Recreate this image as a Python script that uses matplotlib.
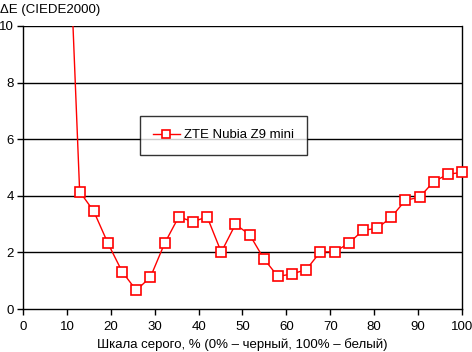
import numpy as np
import matplotlib.pyplot as plt

plt.rcParams['font.family'] = ['Liberation Sans', 'DejaVu Sans']

# Данные: шкала серого (%) и ΔE
gray = [100 * i / 31 for i in range(3, 32)]
delta_e = [16.6, 4.15, 3.45, 2.32, 1.32, 0.66, 1.13, 2.32, 3.26, 3.08, 3.26,
           2.01, 2.99, 2.63, 1.78, 1.15, 1.24, 1.39, 2.02, 2.02, 2.32, 2.78,
           2.85, 3.24, 3.84, 3.95, 4.50, 4.76, 4.83]
series_name = 'ZTE Nubia Z9 mini'

fig = plt.figure(figsize=(4.72, 3.52), dpi=100)
ax = fig.add_axes([23 / 472, 1 - 309 / 352, 439 / 472, 283 / 352])

for y in [2, 4, 6, 8, 10]:
    ax.axhline(y, color='black', linewidth=1, zorder=1)

# линия обрезается по осям, маркеры - нет
ax.plot(gray, delta_e, color='red', linewidth=1, zorder=3, label='_line')
vis = [(g, d) for g, d in zip(gray, delta_e) if d <= 10]
ax.plot([v[0] for v in vis], [v[1] for v in vis], linestyle='none', marker='s',
        markersize=7, markerfacecolor='white', markeredgecolor='red',
        markeredgewidth=1.2, zorder=4, clip_on=False)
handle, = ax.plot([], [], color='red', linewidth=1, marker='s', markersize=6,
                  markerfacecolor='white', markeredgecolor='red',
                  markeredgewidth=1.2)

ax.set_xlim(0, 100)
ax.set_ylim(0, 10)
ax.set_xticks(range(0, 101, 10))
ax.set_yticks(range(0, 11, 2))
ax.tick_params(labelsize=9.5, length=4, width=1, color='black', direction='out')
ax.tick_params(axis='x', pad=5)
ax.tick_params(axis='y', pad=2.5)
for s in ['left', 'right', 'bottom']:
    ax.spines[s].set_linewidth(1)
ax.spines['top'].set_visible(False)

ax.set_xlabel('Шкала серого, % (0% – черный, 100% – белый)', fontsize=9.5, labelpad=3)
fig.text(0, 1 - 10 / 352, 'ΔE (CIEDE2000)', fontsize=9.5, va='center', ha='left')

leg = ax.legend([handle], [series_name], loc='upper left',
                bbox_to_anchor=((140 - 23) / 439, (309 - 116) / 283),
                fontsize=9.5, frameon=True, fancybox=False, borderpad=1.0,
                handlelength=2.0, handletextpad=0.3, borderaxespad=0)
leg.get_frame().set_edgecolor('black')
leg.get_frame().set_linewidth(1)
leg.set_zorder(5)

fig.savefig('out.png', dpi=100)
